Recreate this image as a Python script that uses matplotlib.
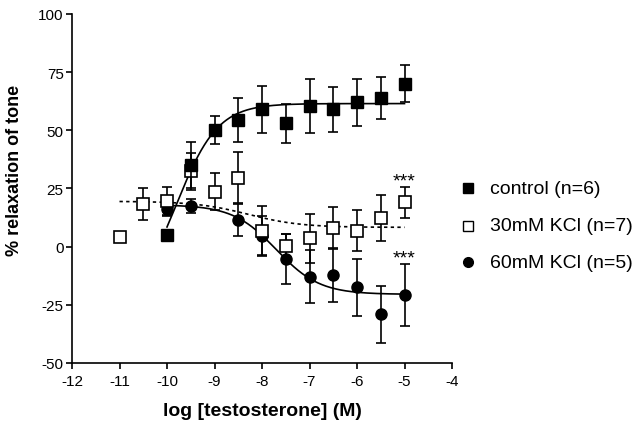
import numpy as np
import matplotlib
matplotlib.use("Agg")
import matplotlib.pyplot as plt
from matplotlib.lines import Line2D

plt.rcParams['font.family'] = ['Liberation Sans', 'DejaVu Sans']

# ---- data ----
ctrl_x = [-10, -9.5, -9, -8.5, -8, -7.5, -7, -6.5, -6, -5.5, -5]
ctrl_y = [5, 35, 50, 54.5, 59, 53, 60.5, 59, 62, 64, 70]
ctrl_e = [2, 10, 6, 9.5, 10, 8.5, 11.5, 9.7, 10, 9, 8]

k30_x = [-11, -10.5, -10, -9.5, -9, -8.5, -8, -7.5, -7, -6.5, -6, -5.5, -5]
k30_y = [4, 18.3, 19.6, 32.4, 23.6, 29.7, 6.9, 0.3, 3.6, 7.9, 6.9, 12.4, 19]
k30_e = [0, 7, 6, 8, 8, 11, 10.6, 5, 10.5, 9, 8.8, 10, 6.7]

k60_x = [-10, -9.5, -8.5, -8, -7.5, -7, -6.5, -6, -5.5, -5]
k60_y = [16, 17.4, 11.4, 4.7, -5.3, -12.9, -12.2, -17.4, -29, -20.7]
k60_e = [3, 3, 7, 8.5, 10.6, 11.5, 11.5, 12.2, 12.2, 13.4]

# fitted sigmoid parameters (bottom, top, logEC50, hill, x-start, x-end)
ctrl_fit = (-25, 61.5, -9.8, 1.0, -10, -5)
k30_fit = (8.3, 19.5, -8.29, -0.785, -11, -5)
k60_fit = (-20.5, 18.0, -7.7, -0.95, -10, -5)

legend_labels = ['control (n=6)', '30mM KCl (n=7)', '60mM KCl (n=5)']
xticks = [-12, -11, -10, -9, -8, -7, -6, -5, -4]
yticks = [-50, -25, 0, 25, 50, 75, 100]


def sigmoid(p):
    bottom, top, ec50, hill, x0, x1 = p
    xs = np.linspace(x0, x1, 300)
    ys = bottom + (top - bottom) / (1 + 10 ** ((ec50 - xs) * hill))
    return xs, ys


fig = plt.figure(figsize=(6.4, 4.27), dpi=100)
ax = fig.add_axes([72 / 640, 1 - 364 / 427, 380 / 640, 349 / 427])

lw = 1.2
# curves
xs, ys = sigmoid(ctrl_fit)
ax.plot(xs, ys, color='black', lw=lw, zorder=2)
xs, ys = sigmoid(k30_fit)
ax.plot(xs, ys, color='black', lw=lw, ls=(0, (2, 2)), zorder=2)
xs, ys = sigmoid(k60_fit)
ax.plot(xs, ys, color='black', lw=lw, zorder=2)

ebkw = dict(ecolor='black', elinewidth=lw, capsize=3.6, capthick=lw, ls='none')
ax.errorbar(k60_x, k60_y, yerr=k60_e, fmt='o', ms=8, mfc='black', mec='black',
            zorder=3, **ebkw)
ax.errorbar(k30_x, k30_y, yerr=k30_e, fmt='s', ms=8, mfc='white', mec='black',
            mew=1.2, zorder=4, **ebkw)
ax.errorbar(ctrl_x, ctrl_y, yerr=ctrl_e, fmt='s', ms=8.5, mfc='black', mec='black',
            zorder=5, **ebkw)

# significance markers
ax.text(-5, 26.5, '***', ha='center', va='baseline', fontsize=14)
ax.text(-5, -7, '***', ha='center', va='baseline', fontsize=14)

ax.set_xlim(-12, -4)
ax.set_ylim(-50, 100)
ax.set_xticks(xticks)
ax.set_yticks(yticks)
ax.set_xticklabels([str(t) for t in xticks])
ax.set_yticklabels([str(t) for t in yticks])
for s in ['top', 'right']:
    ax.spines[s].set_visible(False)
for s in ['left', 'bottom']:
    ax.spines[s].set_linewidth(1.2)
ax.tick_params(direction='out', length=4, width=1.2, labelsize=11, pad=2)
ax.tick_params(axis='x', pad=4)

ax.set_xlabel('log [testosterone] (M)', fontsize=14, fontweight='bold', labelpad=10)
ax.set_ylabel('% relaxation of tone', fontsize=13, fontweight='bold')
ax.yaxis.set_label_coords(-0.128, 0.556)

# legend
rows_y = [1 - 189 / 427, 1 - 227 / 427, 1 - 263 / 427]
styles = [dict(marker='s', mfc='black', mec='black', ms=6.5),
          dict(marker='s', mfc='white', mec='black', ms=6.5, mew=1.0),
          dict(marker='o', mfc='black', mec='black', ms=7)]
for yy, lab, st in zip(rows_y, legend_labels, styles):
    fig.add_artist(Line2D([468 / 640], [yy], ls='none', transform=fig.transFigure, **st))
    fig.text(490 / 640, yy, lab, fontsize=14, va='center', ha='left')

fig.savefig('out.png', dpi=100)
